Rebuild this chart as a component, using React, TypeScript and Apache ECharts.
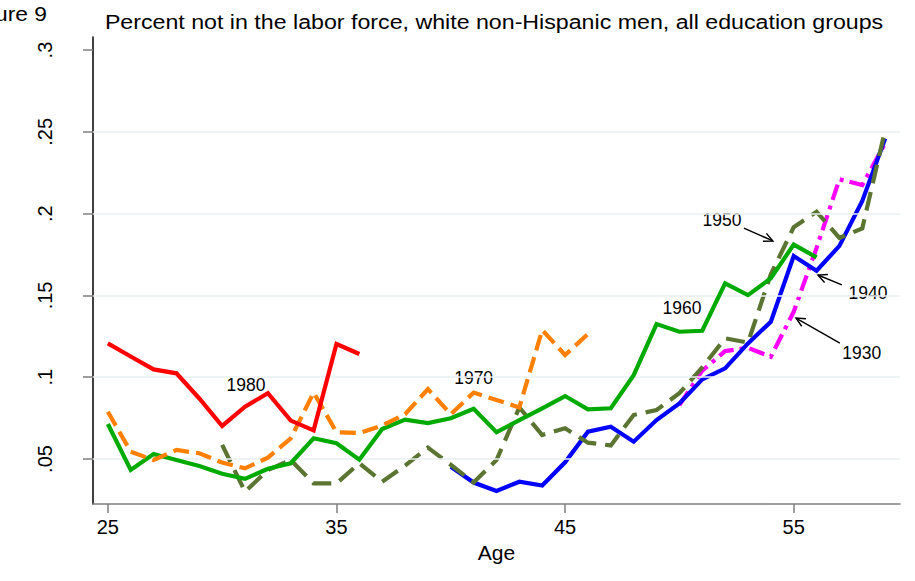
import React, { useEffect, useRef } from "react";
import * as echarts from "echarts";

// ---- data ----
const xTickValues = [25, 35, 45, 55];
const yTickValues = [0.05, 0.1, 0.15, 0.2, 0.25, 0.3];
const yTickLabels = [".05", ".1", ".15", ".2", ".25", ".3"];

const cohortNames = ["1930", "1940", "1950", "1960", "1970", "1980"];

const start1930 = 50;
const values1930 = [0.083, 0.104, 0.116, 0.118, 0.1125, 0.14, 0.179, 0.221, 0.2175, 0.243];

const start1940 = 40;
const values1940 = [0.0453, 0.0356, 0.0305, 0.0361, 0.0338, 0.048, 0.0667, 0.0697, 0.0606, 0.0738,
  0.084, 0.0987, 0.1054, 0.1207, 0.1339, 0.1741, 0.1651, 0.1803, 0.2078, 0.246];

const start1950 = 30;
const values1950 = [0.0586, 0.03, 0.0433, 0.0494, 0.0351, 0.0351, 0.0474, 0.0361, 0.046, 0.057,
  0.0465, 0.0356, 0.0494, 0.0815, 0.0647, 0.0688, 0.06, 0.0583, 0.0769, 0.08,
  0.0902, 0.106, 0.1238, 0.1212, 0.163, 0.1917, 0.2012, 0.1852, 0.191, 0.2511];

const start1960 = 25;
const values1960 = [0.0714, 0.0433, 0.0531, 0.0494, 0.0457, 0.041, 0.0379, 0.044, 0.0474, 0.0627,
  0.0596, 0.0496, 0.0683, 0.0741, 0.072, 0.0749, 0.0807, 0.0664, 0.0738, 0.081,
  0.0885, 0.0804, 0.081, 0.1013, 0.1325, 0.1278, 0.1284, 0.1574, 0.1502, 0.1605,
  0.1811, 0.1733];

const start1970 = 25;
const values1970 = [0.0789, 0.0545, 0.0494, 0.0555, 0.0535, 0.0478, 0.0443, 0.0508, 0.0626, 0.0906,
  0.0664, 0.0659, 0.0705, 0.0774, 0.0927, 0.0774, 0.0906, 0.0861, 0.0815, 0.1289,
  0.1136, 0.1264];

const start1980 = 25;
const values1980 = [0.1207, 0.1127, 0.1048, 0.1024, 0.087, 0.0702, 0.082, 0.0902, 0.0735, 0.0675,
  0.1203, 0.1142];

const gridValues = [0.05, 0.1, 0.15, 0.2, 0.25];

// annotations (data coordinates)
const annotTexts = ["1980", "1970", "1960", "1950", "1940", "1930"];
const annotPos = [[31.04, 0.0952], [41.0, 0.0995], [50.11, 0.1423], [51.86, 0.1961], [58.25, 0.1515], [57.98, 0.1148]];
const arrowFrom = [[52.82, 0.1912], [57.11, 0.1564], [57.02, 0.1209]];
const arrowTo = [[54.09, 0.1833], [56.06, 0.1625], [55.1, 0.1362]];

const FONT = "'Liberation Sans', Arial, Helvetica, sans-serif";

const toPairs = (start: number, vals: number[]) => vals.map((v, i) => [start + i, v]);

export default function App() {
  const ref = useRef<HTMLDivElement>(null);

  useEffect(() => {
    if (!ref.current) return;
    const chart = echarts.init(ref.current, null, { renderer: "svg" });

    const cohortData = [
      toPairs(start1930, values1930),
      toPairs(start1940, values1940),
      toPairs(start1950, values1950),
      toPairs(start1960, values1960),
      toPairs(start1970, values1970),
      toPairs(start1980, values1980),
    ];
    const styles: any[] = [
      { color: "#ff00ff", type: [16, 6, 4, 6] },
      { color: "#0000ff", type: "solid" },
      { color: "#5b7431", type: [19, 9] },
      { color: "#00aa00", type: "solid" },
      { color: "#ff8000", type: [16, 7] },
      { color: "#ff0000", type: "solid" },
    ];

    const series: any[] = [
      {
        type: "line",
        name: "grid",
        data: [],
        silent: true,
        z: 1,
        markLine: {
          silent: true,
          symbol: ["none", "none"],
          label: { show: false },
          lineStyle: { color: "#e8eff3", width: 1.5, type: "solid" },
          data: gridValues.map((v) => ({ yAxis: v })),
        },
      },
    ];
    cohortData.forEach((d, i) => {
      series.push({
        type: "line",
        name: cohortNames[i],
        data: d,
        showSymbol: false,
        symbol: "none",
        z: 2 + i,
        lineStyle: { color: styles[i].color, width: 4.2, type: styles[i].type, cap: "butt", join: "miter" },
      });
    });

    const option: any = {
      animation: false,
      backgroundColor: "#ffffff",
      textStyle: { fontFamily: FONT },
      grid: { left: 93, right: 15, top: 37, bottom: 77, containLabel: false },
      xAxis: {
        type: "value",
        min: 24.35,
        max: 59.65,
        name: "Age",
        nameLocation: "middle",
        nameGap: 35,
        nameTextStyle: { fontSize: 21, color: "#000", fontFamily: FONT },
        axisLine: { show: true, onZero: false, lineStyle: { color: "#7f7f7f", width: 1.5 } },
        axisTick: { show: true, length: 9, customValues: xTickValues, lineStyle: { color: "#7f7f7f", width: 1.5 } },
        axisLabel: { customValues: xTickValues, fontSize: 20, color: "#000", margin: 13, fontFamily: FONT },
        splitLine: { show: false },
      },
      yAxis: {
        type: "value",
        min: 0.0225,
        max: 0.308,
        axisLine: { show: true, onZero: false, lineStyle: { color: "#000", width: 1.5 } },
        axisTick: { show: true, length: 10, customValues: yTickValues, lineStyle: { color: "#7f7f7f", width: 1.5 } },
        axisLabel: {
          customValues: yTickValues,
          rotate: 90,
          margin: 38,
          fontSize: 20,
          color: "#000",
          fontFamily: FONT,
          formatter: (v: number) => {
            let best = 0;
            yTickValues.forEach((t, i) => {
              if (Math.abs(t - v) < Math.abs(yTickValues[best] - v)) best = i;
            });
            return yTickLabels[best];
          },
        },
        splitLine: { show: false },
      },
      series,
    };
    chart.setOption(option);

    const px = (p: number[]) => chart.convertToPixel({ gridIndex: 0 }, p) as number[];
    const graphics: any[] = [
      {
        type: "text",
        x: 494,
        y: 22,
        scaleX: 1.16,
        style: {
          text: "Percent not in the labor force, white non-Hispanic men, all education groups",
          fontSize: 20,
          fontFamily: FONT,
          fill: "#000",
          align: "center",
          verticalAlign: "middle",
        },
      },
      {
        type: "text",
        x: 47,
        y: 14,
        scaleX: 1.14,
        style: {
          text: "Figure 9",
          fontSize: 20,
          fontFamily: FONT,
          fill: "#000",
          align: "right",
          verticalAlign: "middle",
        },
      },
    ];
    annotTexts.forEach((t, i) => {
      const p = px(annotPos[i]);
      graphics.push({
        type: "text",
        x: p[0],
        y: p[1],
        style: { text: t, fontSize: 17.5, fontFamily: FONT, fill: "#000", align: "center", verticalAlign: "middle" },
      });
    });
    arrowFrom.forEach((f, i) => {
      const a = px(f);
      const b = px(arrowTo[i]);
      const ang = Math.atan2(b[1] - a[1], b[0] - a[0]);
      const hl = 10;
      const spread = 0.45;
      const h1 = [b[0] - hl * Math.cos(ang - spread), b[1] - hl * Math.sin(ang - spread)];
      const h2 = [b[0] - hl * Math.cos(ang + spread), b[1] - hl * Math.sin(ang + spread)];
      graphics.push({
        type: "line",
        shape: { x1: a[0], y1: a[1], x2: b[0], y2: b[1] },
        style: { stroke: "#000", lineWidth: 1.4 },
      });
      graphics.push({
        type: "polyline",
        shape: { points: [h1, b, h2] },
        style: { stroke: "#000", lineWidth: 1.4, fill: "none" },
      });
    });
    chart.setOption({ graphic: graphics });

    return () => {
      chart.dispose();
    };
  }, []);

  return (
    <div
      ref={ref}
      style={{ position: "fixed", left: 0, top: 0, width: 915, height: 581, background: "#fff" }}
    />
  );
}
